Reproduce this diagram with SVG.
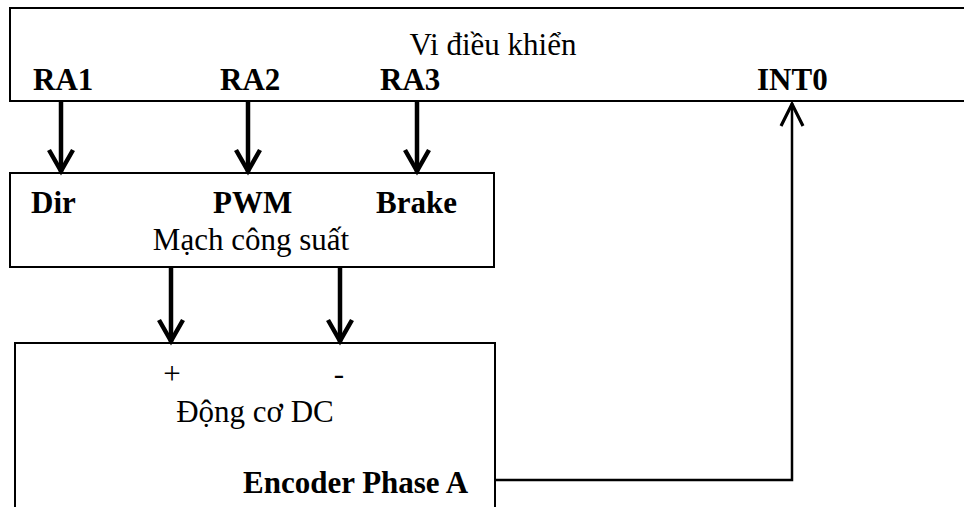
<svg xmlns="http://www.w3.org/2000/svg" width="964" height="507" viewBox="0 0 964 507">
  <style>
    .box { fill: #fff; stroke: #000; stroke-width: 2; }
    .t { font-family: "Liberation Serif", "Times New Roman", serif; font-size: 31px; fill: #000; }
    .b { font-weight: bold; }
    .thick { stroke: #000; stroke-width: 4.5; fill: none; }
    .thin { stroke: #000; stroke-width: 2.5; fill: none; }
  </style>
  <defs>
    <marker id="chev" markerUnits="userSpaceOnUse" viewBox="-30 -18 34 36" refX="0" refY="0" markerWidth="34" markerHeight="36" orient="auto">
      <path d="M -22 -12 L -1 0 L -22 12" stroke="#000" stroke-width="4.5" fill="none" stroke-linejoin="miter"/>
    </marker>
    <marker id="chev2" markerUnits="userSpaceOnUse" viewBox="-30 -18 34 36" refX="0" refY="0" markerWidth="34" markerHeight="36" orient="auto">
      <path d="M -23 -11 L -1 0 L -23 11" stroke="#000" stroke-width="3.2" fill="none" stroke-linejoin="miter"/>
    </marker>
  </defs>
  <rect width="964" height="507" fill="#fff"/>

  <g id="vi-dieu-khien">
    <rect class="box" x="10" y="8" width="970" height="93"/>
    <text class="t" x="493" y="55" text-anchor="middle">Vi điều khiển</text>
    <text class="t b" x="33" y="90">RA1</text>
    <text class="t b" x="220" y="90">RA2</text>
    <text class="t b" x="380" y="90">RA3</text>
    <text class="t b" x="757" y="90">INT0</text>
  </g>

  <g id="mach-cong-suat">
    <rect class="box" x="10" y="173" width="484" height="94"/>
    <text class="t b" x="31" y="213">Dir</text>
    <text class="t b" x="213" y="213">PWM</text>
    <text class="t b" x="376" y="213">Brake</text>
    <text class="t" x="251" y="250" text-anchor="middle">Mạch công suất</text>
  </g>

  <g id="dong-co-dc">
    <rect class="box" x="15" y="343" width="480" height="180"/>
    <text class="t" x="172" y="384" text-anchor="middle">+</text>
    <text class="t" x="339" y="384" text-anchor="middle">-</text>
    <text class="t" x="255" y="422" text-anchor="middle">Động cơ DC</text>
    <text class="t b" x="243" y="493">Encoder Phase A</text>
  </g>

  <g id="connectors">
    <line class="thick" x1="61" y1="101" x2="61" y2="172" marker-end="url(#chev)"/>
    <line class="thick" x1="248" y1="101" x2="248" y2="172" marker-end="url(#chev)"/>
    <line class="thick" x1="417" y1="101" x2="417" y2="172" marker-end="url(#chev)"/>
    <line class="thick" x1="171" y1="267" x2="171" y2="342" marker-end="url(#chev)"/>
    <line class="thick" x1="340" y1="267" x2="340" y2="342" marker-end="url(#chev)"/>
    <polyline class="thin" points="495,480 792,480 792,103" marker-end="url(#chev2)"/>
  </g>
</svg>
